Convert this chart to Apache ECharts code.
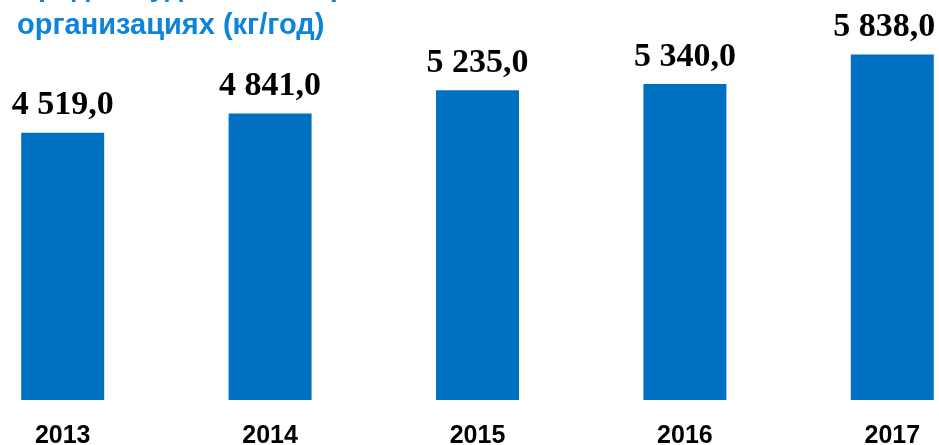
<!DOCTYPE html>
<html><head><meta charset="utf-8">
<script src="https://cdn.jsdelivr.net/npm/echarts@6/dist/echarts.min.js"></script>
<style>html,body{margin:0;padding:0;background:#fff;overflow:hidden;width:939px;height:445px}
#c{position:absolute;left:-41px;top:0;width:1037px;height:445px}</style>
</head><body><div id="c"></div>
<script>
const years = ['2013', '2014', '2015', '2016', '2017'];
const values = [4519.0, 4841.0, 5235.0, 5340.0, 5838.0];
const titleLines = ['Средняя удельная норма в', 'организациях (кг/год)'];

function fmt(v) {
  const parts = v.toFixed(1).split('.');
  const int = parts[0].replace(/\B(?=(\d{3})+(?!\d))/g, ' ');
  return int + ',' + parts[1];
}

const chart = echarts.init(document.getElementById('c'));
chart.setOption({
  animation: false,
  title: {
    text: titleLines.join('\n'),
    left: 58,
    top: -31,
    padding: 0,
    textStyle: { color: '#0b84d9', fontFamily: 'Liberation Sans, Arial, sans-serif', fontWeight: 'bold', fontSize: 29, lineHeight: 38 }
  },
  grid: { left: 0, right: 0, top: 45, bottom: 45, containLabel: false, outerBoundsMode: 'none' },
  xAxis: {
    type: 'category',
    data: years,
    axisLine: { show: false },
    axisTick: { show: false },
    axisLabel: { color: '#000', fontFamily: 'Liberation Sans, Arial, sans-serif', fontWeight: 'bold', fontSize: 25, margin: 24 }
  },
  yAxis: {
    type: 'value', min: 0, max: 6000,
    show: false,
    splitLine: { show: false }
  },
  series: [{
    type: 'bar',
    data: values.map((v, i) => i === values.length - 1 ? { value: v, label: { offset: [-8, 0] } } : v),
    barWidth: '40%',
    itemStyle: { color: '#0070C0' },
    label: {
      show: true, position: 'top', distance: 10,
      color: '#000', fontFamily: 'Liberation Serif, Times New Roman, serif', fontWeight: 'bold', fontSize: 34,
      formatter: p => fmt(p.value)
    }
  }]
});
</script></body></html>
